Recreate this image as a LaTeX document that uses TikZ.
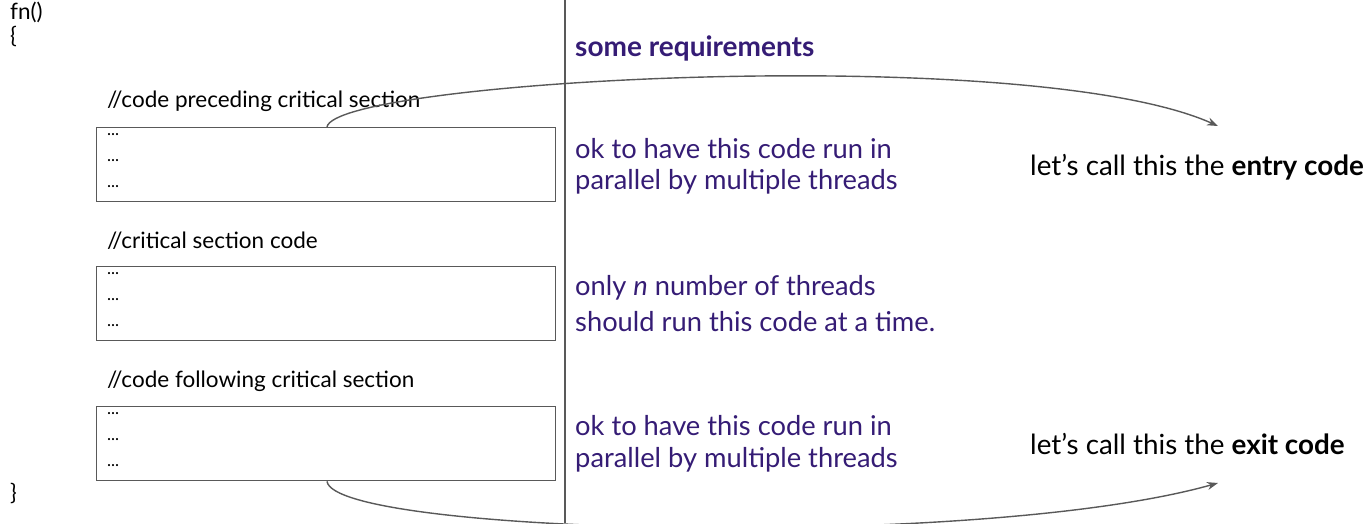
\documentclass[tikz,border=0pt]{standalone}
\usepackage{fontspec}
\setmainfont{Lato}
\usetikzlibrary{arrows.meta,calc}
\definecolor{req}{HTML}{351C75}
\definecolor{edge}{HTML}{595959}
\begin{document}
\begin{tikzpicture}[x=1pt,y=-1pt,
  code/.style={anchor=west,inner sep=0pt,font=\fontsize{22.5}{25}\selectfont},
  codebox/.style={draw=edge,line width=1.4pt,anchor=north west,minimum width=459pt,minimum height=74pt,inner sep=0pt},
  dots/.style={anchor=west,inner sep=0pt,font=\fontsize{17}{20}\selectfont},
  note/.style={anchor=west,inner sep=0pt,text=req,font=\fontsize{27.3}{30}\selectfont},
  label/.style={anchor=west,inner sep=0pt,font=\fontsize{27.8}{30}\selectfont},
  link/.style={draw=edge,line width=1.4pt,-{Stealth[length=11pt,width=8pt]}}]
\useasboundingbox (0,0) rectangle (1369,523);

% function skeleton
\node[code] (fn) at (10,12) {fn()};
\node[code] (open) at (10,36) {\{};
\node[code] (close) at (10,493) {\}};

% the three code regions
\node[code] (c1) at (107,101) {//code preceding critical section};
\node[codebox] (b1) at (96,127) {};
\node[code] (c2) at (107,241) {//critical section code};
\node[codebox] (b2) at (96,266) {};
\node[code] (c3) at (107,381) {//code following critical section};
\node[codebox] (b3) at (96,406) {};
\foreach \b in {b1,b2,b3}{
  \node[dots] at ($(\b.north west)+(11,8)$) {...};
  \node[dots] at ($(\b.north west)+(11,34)$) {...};
  \node[dots] at ($(\b.north west)+(11,60)$) {...};
}

% divider
\coordinate (top) at (565,0);
\coordinate (bot) at (565,523);
\draw[edge,line width=1.4pt] (top) -- (bot);

% requirements
\node[note,font=\bfseries\fontsize{28}{30}\selectfont] (req) at (575,48) {some requirements};
\node[note] (r1a) at (575,149) {ok to have this code run in};
\node[note] (r1b) at (575,182) {parallel by multiple threads};
\node[note] (r2a) at (575,288) {only \textit{n} number of threads};
\node[note] (r2b) at (575,322) {should run this code at a time.};
\node[note] (r3a) at (575,426) {ok to have this code run in};
\node[note] (r3b) at (575,460) {parallel by multiple threads};

% names for the outer regions
\node[label] (entry) at (1030,167) {let’s call this the \textbf{entry code}};
\node[label] (exit) at (1030,444) {let’s call this the \textbf{exit code}};

\coordinate (s1) at ($(b1.north west)+(231,0)$);
\coordinate (e1) at (1218,126);
\coordinate (s3) at ($(b3.south west)+(231,0)$);
\coordinate (e3) at (1218,483);
\path[link] (s1) .. controls (335,80) and (1030,42) .. (e1);
\path[link] (s3) .. controls (335,535) and (980,550) .. (e3);
\end{tikzpicture}
\end{document}
